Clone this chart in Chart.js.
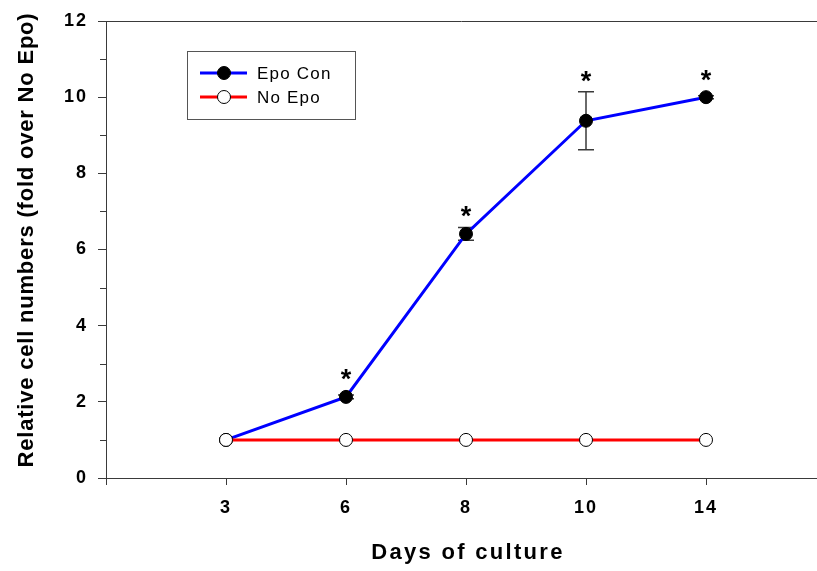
<!DOCTYPE html>
<html>
<head>
<meta charset="utf-8">
<script src="https://cdn.jsdelivr.net/npm/chart.js@4.4.1/dist/chart.umd.min.js"></script>
<style>
  body { margin: 0; background: #fff; }
  canvas { display: block; }
</style>
</head>
<body>
<canvas id="myChart" width="817" height="571"></canvas>
<script>
// Days of culture and relative cell numbers
const days = ['3', '6', '8', '10', '14'];
const epoCon = [1.0, 2.13, 6.41, 9.38, 10.0];
const epoConErr = [0, 0.05, 0.17, 0.76, 0.04];
const noEpo = [1, 1, 1, 1, 1];
const significant = [false, true, true, true, true];
const yMinor = [1, 3, 5, 7, 9, 11];

const FONT = "'Liberation Sans', Arial, Helvetica, sans-serif";
const AXIS = '#3a3a3a';

function toPoints(values) {
  return values.map((v, i) => ({ x: i + 1, y: v }));
}

// spacing for tick labels, extra lines, error bars, stars, titles, legend
const decorations = {
  id: 'decorations',
  beforeDraw(chart) {
    chart.ctx.letterSpacing = '2px';
  },
  beforeDatasetsDraw(chart) {
    const { ctx, chartArea, scales: { x, y } } = chart;
    ctx.save();
    ctx.strokeStyle = AXIS;
    ctx.lineWidth = 1;
    // top frame line
    ctx.beginPath();
    ctx.moveTo(chartArea.left, chartArea.top + 0.5);
    ctx.lineTo(chartArea.right, chartArea.top + 0.5);
    ctx.stroke();
    // minor y ticks
    yMinor.forEach(v => {
      const py = Math.round(y.getPixelForValue(v)) + 0.5;
      ctx.beginPath();
      ctx.moveTo(chartArea.left - 6, py);
      ctx.lineTo(chartArea.left, py);
      ctx.stroke();
    });
    // error bars
    ctx.lineWidth = 1.5;
    epoCon.forEach((v, i) => {
      const e = epoConErr[i];
      if (!e) return;
      const px = x.getPixelForValue(i + 1);
      const top = y.getPixelForValue(v + e);
      const bot = y.getPixelForValue(v - e);
      ctx.beginPath();
      ctx.moveTo(px, top); ctx.lineTo(px, bot);
      ctx.moveTo(px - 8, top); ctx.lineTo(px + 8, top);
      ctx.moveTo(px - 8, bot); ctx.lineTo(px + 8, bot);
      ctx.stroke();
    });
    ctx.restore();
  },
  afterDatasetsDraw(chart) {
    const { ctx, scales: { x, y } } = chart;
    ctx.save();
    ctx.letterSpacing = '0px';
    ctx.fillStyle = '#000';
    ctx.font = 'bold 27px ' + FONT;
    ctx.textAlign = 'center';
    ctx.textBaseline = 'alphabetic';
    epoCon.forEach((v, i) => {
      if (!significant[i]) return;
      const px = x.getPixelForValue(i + 1);
      const top = Math.min(y.getPixelForValue(v + epoConErr[i]), y.getPixelForValue(v) - 6.5);
      ctx.fillText('*', px, top - 2);
    });
    ctx.restore();
  },
  afterDraw(chart) {
    const { ctx } = chart;
    ctx.save();
    ctx.fillStyle = '#000';
    // axis titles
    ctx.font = 'bold 22px ' + FONT;
    ctx.textAlign = 'center';
    ctx.textBaseline = 'alphabetic';
    ctx.letterSpacing = '2.3px';
    ctx.fillText('Days of culture', 468, 559);
    ctx.save();
    ctx.translate(33, 240);
    ctx.rotate(-Math.PI / 2);
    ctx.letterSpacing = '0.8px';
    ctx.fillText('Relative cell numbers (fold over No Epo)', 0, 0);
    ctx.restore();

    // legend box
    ctx.strokeStyle = '#555';
    ctx.lineWidth = 1;
    ctx.strokeRect(187.5, 51.5, 168, 68);
    const entries = chart.data.datasets.slice().reverse();
    entries.forEach((ds, k) => {
      const ly = 73 + k * 24;
      ctx.strokeStyle = ds.borderColor;
      ctx.lineWidth = 3;
      ctx.beginPath();
      ctx.moveTo(200, ly); ctx.lineTo(247, ly);
      ctx.stroke();
      ctx.beginPath();
      ctx.arc(224, ly, 6.5, 0, Math.PI * 2);
      ctx.fillStyle = ds.pointBackgroundColor;
      ctx.fill();
      ctx.strokeStyle = '#000';
      ctx.lineWidth = 1;
      ctx.stroke();
      ctx.fillStyle = '#000';
      ctx.font = '17px ' + FONT;
      ctx.textAlign = 'left';
      ctx.textBaseline = 'middle';
      ctx.letterSpacing = '1.2px';
      ctx.fillText(ds.label, 257, ly + 1);
    });
    ctx.restore();
    ctx.letterSpacing = '0px';
  }
};

const config = {
  type: 'line',
  data: {
    datasets: [
      {
        label: 'No Epo',
        data: toPoints(noEpo),
        borderColor: '#ff0000',
        borderWidth: 3,
        pointRadius: 6.5,
        pointBackgroundColor: '#ffffff',
        pointBorderColor: '#000000',
        pointBorderWidth: 1
      },
      {
        label: 'Epo Con',
        data: toPoints(epoCon),
        borderColor: '#0000ff',
        borderWidth: 3,
        pointRadius: 6.5,
        pointBackgroundColor: '#000000',
        pointBorderColor: '#000000',
        pointBorderWidth: 1
      }
    ]
  },
  options: {
    responsive: false,
    animation: false,
    layout: { autoPadding: false, padding: { top: 21, left: 0, right: 0, bottom: 0 } },
    plugins: { legend: { display: false }, tooltip: { enabled: false } },
    scales: {
      x: {
        type: 'linear',
        min: 0,
        max: 5.925,
        afterBuildTicks: scale => {
          scale.ticks = [0, 1, 2, 3, 4, 5].map(v => ({ value: v }));
        },
        afterFit: scale => { scale.height = 93; },
        ticks: {
          autoSkip: false,
          maxRotation: 0,
          padding: 12,
          color: '#000',
          font: { family: FONT, size: 18, weight: 'bold' },
          callback: v => (v === 0 ? '' : days[v - 1])
        },
        grid: { drawOnChartArea: false, tickLength: 7, color: AXIS, lineWidth: 1 },
        border: { display: true, color: AXIS, width: 1 }
      },
      y: {
        min: 0,
        max: 12,
        afterFit: scale => { scale.width = 106; },
        ticks: {
          stepSize: 2,
          padding: 10,
          color: '#000',
          font: { family: FONT, size: 18, weight: 'bold' }
        },
        grid: { drawOnChartArea: false, tickLength: 8, color: AXIS, lineWidth: 1 },
        border: { display: true, color: AXIS, width: 1 }
      }
    }
  },
  plugins: [decorations]
};

const myChart = new Chart(document.getElementById('myChart'), config);
</script>
</body>
</html>
